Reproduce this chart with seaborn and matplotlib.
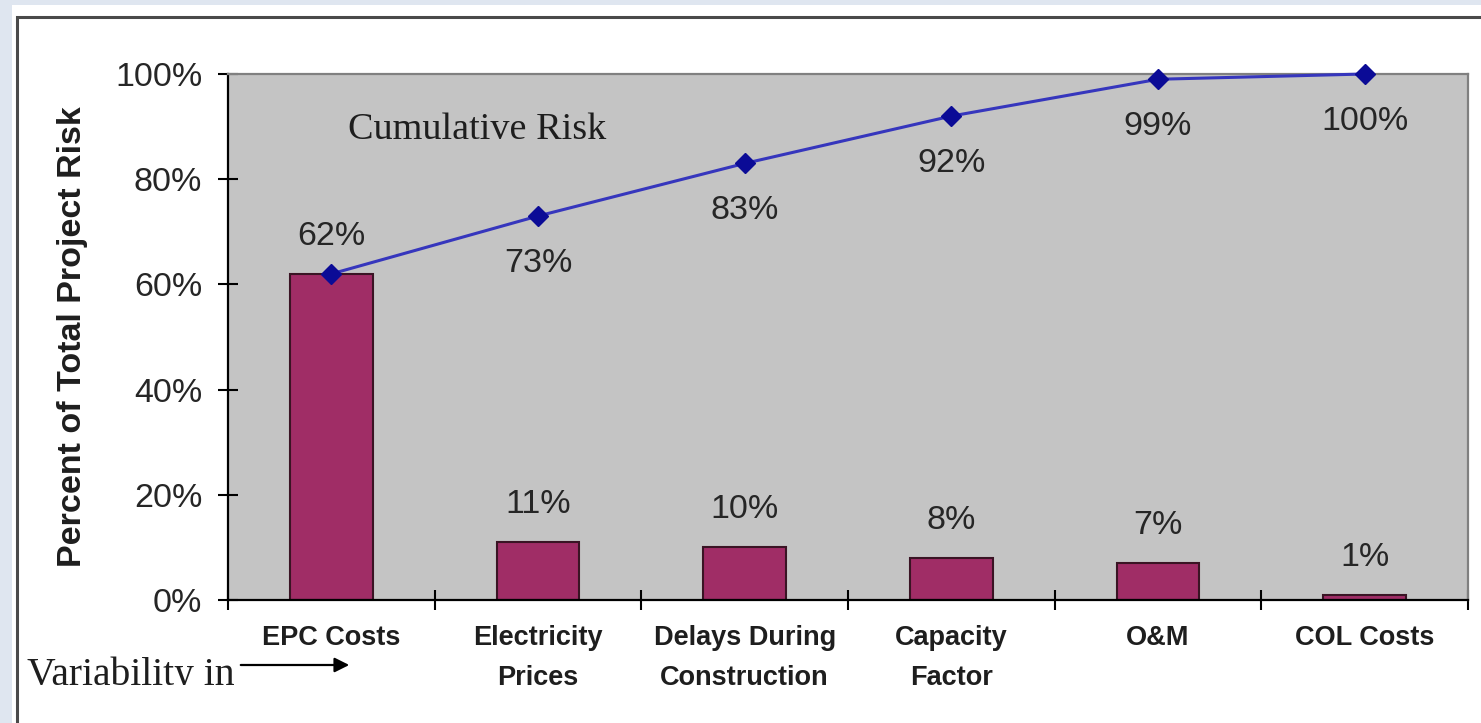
import matplotlib
matplotlib.use("Agg")
import matplotlib.pyplot as plt
from matplotlib.patches import Rectangle, FancyArrowPatch
from matplotlib.transforms import Bbox
import seaborn as sns
import pandas as pd

# Share of total project risk by source of variability
categories = ["EPC Costs", "Electricity\nPrices", "Delays During\nConstruction",
              "Capacity\nFactor", "O&M", "COL Costs"]
risk_share = [62, 11, 10, 8, 7, 1]
cumulative_risk = [62, 73, 83, 92, 99, 100]
y_ticks = [0, 20, 40, 60, 80, 100]

df = pd.DataFrame({"category": categories, "share": risk_share,
                   "cumulative": cumulative_risk})

sns.set_style("white")
plt.rcParams["font.family"] = ["Liberation Sans", "DejaVu Sans"]

W, H = 1481, 723
fig = plt.figure(figsize=(W / 100, H / 100), dpi=100, facecolor="#dfe6f0")

# white panel with dark frame
fig.patches.append(Rectangle((12 / W, 0), 1, (H - 5) / H, transform=fig.transFigure,
                             facecolor="white", edgecolor="none", zorder=-3))
fig.patches.append(Rectangle((17 / W, -0.01), 1.1, (H - 17) / H + 0.01,
                             transform=fig.transFigure, facecolor="none",
                             edgecolor="#4a4a4a", linewidth=2.2, zorder=-2))

ax = fig.add_axes([228 / W, 1 - 600 / H, 1240 / W, 526 / H])
ax.set_zorder(1)
ax.set_facecolor("#c4c4c4")

sns.barplot(data=df, x="category", y="share", color="#a02d66", saturation=1,
            width=0.4, edgecolor="#3a1424", linewidth=1.5, ax=ax, zorder=2)

pos = list(range(len(categories)))
ax.plot(pos, df["cumulative"], color="#3636bd", linewidth=2.2, marker="D",
        markersize=10, markerfacecolor="#0b0b96", markeredgecolor="#0b0b96",
        clip_on=False, zorder=4)

label_kw = dict(ha="center", va="center", fontsize=24.5, color="#262626",
                textcoords="offset points")
for i, v in enumerate(risk_share):
    ax.annotate(f"{v}%", (i, v), xytext=(0, 27), **label_kw)
for i, v in enumerate(cumulative_risk):
    if i == 0:
        continue
    ax.annotate(f"{v}%", (i, v), xytext=(0, -34), **label_kw)

ax.text(0.097, 89.4, "Cumulative Risk", transform=ax.get_yaxis_transform(),
        fontsize=27.5, family="Liberation Serif", color="#1e1e1e", va="center", ha="left")

ax.set_xlim(-0.5, len(categories) - 0.5)
ax.set_ylim(0, 100)
ax.set_yticks(y_ticks)
ax.set_yticklabels([f"{t}%" for t in y_ticks])

# ticks sit on category boundaries, labels between them
ax.set_xticks([p - 0.5 for p in pos] + [pos[-1] + 0.5])
ax.set_xticklabels([])
ax.set_xticks(pos, minor=True)
ax.set_xticklabels(categories, minor=True, fontsize=19.5, fontweight="bold",
                   color="#1e1e1e", linespacing=1.7)
ax.tick_params(axis="x", which="major", direction="inout", length=15, width=1.5,
               color="black", bottom=True)
ax.tick_params(axis="x", which="minor", length=0, pad=18)
ax.tick_params(axis="y", direction="inout", length=15, width=1.5, color="black",
               labelsize=24.5, labelcolor="#262626", pad=11, left=True)

ax.set_xlabel("")
ax.set_ylabel("Percent of Total Project Risk", fontsize=24.5, fontweight="bold",
              color="#1e1e1e")
ax.yaxis.set_label_coords(-0.113, 0.5)

for side in ("left", "bottom"):
    ax.spines[side].set_color("black")
    ax.spines[side].set_linewidth(1.6)
for side in ("top", "right"):
    ax.spines[side].set_color("#808080")
    ax.spines[side].set_linewidth(1.6)
    ax.spines[side].set_visible(True)

# axis caption with arrow, lower edge cut at the baseline
cap = fig.text(27 / W, (H - 685) / H, "Variability in", fontsize=28.5,
               family="Liberation Serif", color="#1e1e1e", va="baseline", ha="left")
cap.set_clip_on(True)
cap.set_clip_box(Bbox([[0, H - 685], [W, H]]))
fig.patches.append(FancyArrowPatch((238 / W, (H - 665) / H), (352 / W, (H - 665) / H),
                                   transform=fig.transFigure, arrowstyle="-|>",
                                   mutation_scale=22, color="black", linewidth=1.6))

fig.savefig("out.png", dpi=100, facecolor=fig.get_facecolor())
